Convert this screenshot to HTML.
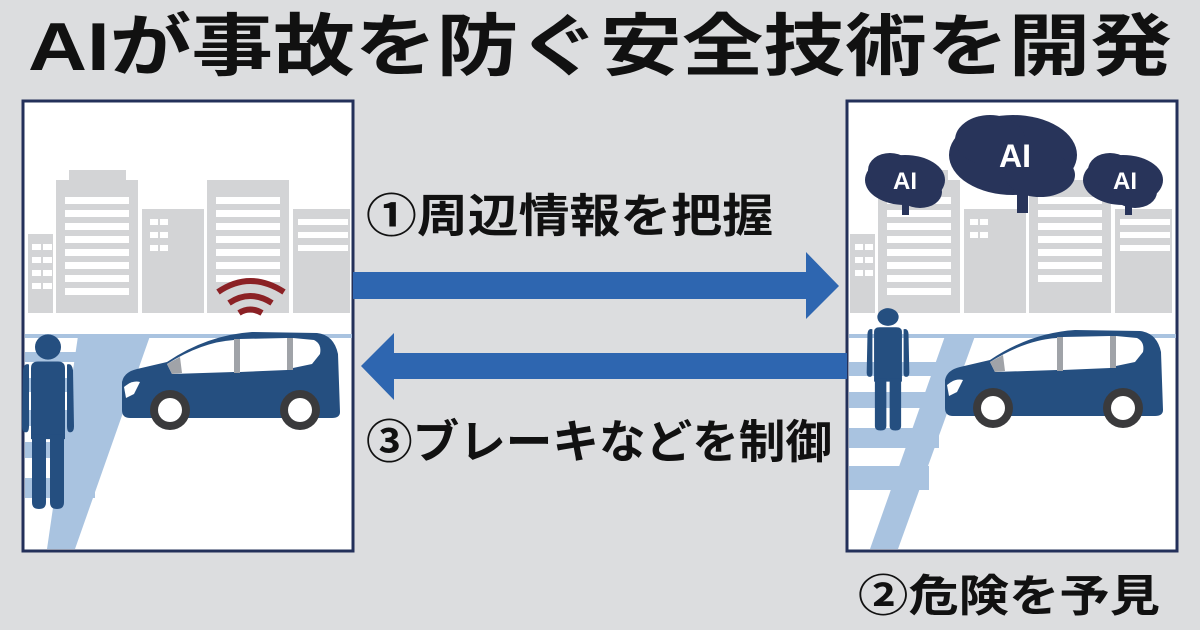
<!DOCTYPE html>
<html><head><meta charset="utf-8"><style>
html,body{margin:0;padding:0;background:#dcdddf;}
svg{display:block}
text{font-family:"Liberation Sans","Noto Sans CJK JP",sans-serif;font-weight:bold}
</style></head><body>
<svg width="1200" height="630" viewBox="0 0 1200 630" xmlns="http://www.w3.org/2000/svg">
<defs>
<g id="car">
 <path d="M0,50 Q2,40 15,37 L45,30 Q85,3 130,0 L195,1 Q212,3 216,22 L218,80 Q218,86 210,86 L8,86 Q0,86 0,78 Z" fill="#254f80"/>
 <path d="M45,32 Q80,10 112,8 L112,40 L50,42 Z" fill="#fff"/>
 <path d="M45,32 L58,25 L60,41 L50,42 Z" fill="#a0a3a8"/>
 <path d="M118,7 L165,6 L165,38 L118,40 Z" fill="#fff"/>
 <path d="M171,6 L192,8 Q200,12 198,22 L190,32 L171,36 Z" fill="#fff"/>
 <rect x="112" y="7" width="6" height="34" fill="#a0a3a8"/>
 <rect x="165" y="6" width="6" height="32" fill="#a0a3a8"/>
 <path d="M2,55 Q10,48 18,50 L12,62 L4,66 Z" fill="#fff"/>
 <circle cx="48" cy="78" r="20" fill="#3a3a3c"/><circle cx="48" cy="78" r="12" fill="#fff"/>
 <circle cx="178" cy="78" r="20" fill="#3a3a3c"/><circle cx="178" cy="78" r="12" fill="#fff"/>
</g>
<g id="bld" fill="#d3d4d6">
 <rect x="5" y="133" width="25" height="79"/>
 <rect x="33" y="79" width="82" height="133"/><rect x="46" y="69" width="57" height="12"/>
 <rect x="119" y="108" width="62" height="104"/>
 <rect x="184" y="79" width="82" height="133"/>
 <rect x="270" y="108" width="57" height="104"/>
</g>
<g id="bldwin" fill="#fff">
 <rect x="42" y="96" width="64" height="7"/><rect x="42" y="109" width="64" height="7"/><rect x="42" y="122" width="64" height="7"/><rect x="42" y="135" width="64" height="7"/><rect x="42" y="148" width="64" height="7"/><rect x="42" y="161" width="64" height="7"/><rect x="42" y="174" width="64" height="7"/><rect x="42" y="187" width="64" height="7"/>
 <rect x="193" y="96" width="64" height="7"/><rect x="193" y="109" width="64" height="7"/><rect x="193" y="122" width="64" height="7"/><rect x="193" y="135" width="64" height="7"/><rect x="193" y="148" width="64" height="7"/><rect x="193" y="161" width="64" height="7"/><rect x="193" y="174" width="64" height="7"/>
</g>
<g id="person" fill="#254f80">
 <circle cx="0" cy="0" r="13"/>
 <path d="M-17,22 Q-17,15 -10,15 L10,15 Q17,15 17,22 L17,95 L-17,95 Z"/>
 <path d="M-25,24 Q-24,16 -19,18 L-19,82 Q-19,88 -22,88 Q-26,88 -26,82 Z"/>
 <path d="M25,24 Q24,16 19,18 L19,82 Q19,88 22,88 Q26,88 26,82 Z"/>
 <path d="M-16,90 L-2,90 L-2,160 Q-2,167 -9,167 Q-16,167 -16,160 Z"/>
 <path d="M16,90 L2,90 L2,160 Q2,167 9,167 Q16,167 16,160 Z"/>
</g>
</defs>

<text x="28" y="70" font-size="68" fill="#111" textLength="1144" lengthAdjust="spacingAndGlyphs">AIが事故を防ぐ安全技術を開発</text>

<!-- left panel -->
<g>
<rect x="23" y="101" width="330" height="450" fill="#fff" stroke="#23305a" stroke-width="3"/>
<g transform="translate(23,101)"><use href="#bld"/><use href="#bldwin"/></g>
<g fill="#fff">
 <rect x="32" y="244" width="9" height="6"/><rect x="43" y="244" width="9" height="6"/><rect x="32" y="257" width="9" height="6"/><rect x="43" y="257" width="9" height="6"/><rect x="32" y="270" width="9" height="6"/><rect x="43" y="270" width="9" height="6"/><rect x="32" y="283" width="9" height="6"/><rect x="43" y="283" width="9" height="6"/>
 <rect x="150" y="219" width="8" height="6"/><rect x="160" y="219" width="8" height="6"/><rect x="150" y="232" width="8" height="6"/><rect x="160" y="232" width="8" height="6"/><rect x="150" y="245" width="8" height="6"/><rect x="160" y="245" width="8" height="6"/>
 <rect x="298" y="219" width="50" height="6"/><rect x="298" y="232" width="50" height="6"/><rect x="298" y="245" width="50" height="6"/>
</g>
<rect x="25" y="334" width="327" height="4" fill="#a9c3e0"/>
<path d="M78,336 L150,336 L75,549 L47,549 Z" fill="#a9c3e0"/>
<g fill="#a9c3e0"><rect x="25" y="352" width="110" height="10"/><rect x="25" y="378" width="100" height="14"/><rect x="25" y="410" width="90" height="16"/><rect x="25" y="442" width="80" height="16"/><rect x="25" y="478" width="70" height="20"/></g>
<g fill="none" stroke="#8b2125" stroke-width="6" stroke-linecap="butt">
 <path d="M218,292 Q250,270 284,292"/><path d="M229,303 Q250,289 272,303"/><path d="M239,313 Q250,306 262,313"/>
</g>
<use href="#car" x="122" y="332"/>
<use href="#person" transform="translate(48,347) scale(1,0.97)"/>
</g>

<!-- right panel -->
<g>
<rect x="847" y="101" width="330" height="450" fill="#fff" stroke="#23305a" stroke-width="3"/>
<g transform="translate(845,101)"><use href="#bld"/><use href="#bldwin"/></g>
<g fill="#fff">
 <rect x="855" y="244" width="8" height="6"/><rect x="865" y="244" width="8" height="6"/><rect x="855" y="257" width="8" height="6"/><rect x="865" y="257" width="8" height="6"/><rect x="855" y="270" width="8" height="6"/><rect x="865" y="270" width="8" height="6"/>
 <rect x="970" y="219" width="8" height="6"/><rect x="980" y="219" width="8" height="6"/><rect x="970" y="232" width="8" height="6"/><rect x="980" y="232" width="8" height="6"/>
 <rect x="1120" y="219" width="50" height="6"/><rect x="1120" y="232" width="50" height="6"/><rect x="1120" y="245" width="50" height="6"/>
</g>
<rect x="849" y="334" width="327" height="4" fill="#a9c3e0"/>
<path d="M945,336 L975,336 L898,549 L870,549 Z" fill="#a9c3e0"/>
<g fill="#a9c3e0"><rect x="849" y="362" width="110" height="14"/><rect x="849" y="392" width="100" height="16"/><rect x="849" y="428" width="90" height="20"/><rect x="849" y="466" width="80" height="24"/></g>
<use href="#car" x="945" y="330"/>
<use href="#person" transform="translate(888,317) scale(0.82,0.68)"/>
<!-- brains -->
<g fill="#28345a">
 <ellipse cx="905" cy="180" rx="40" ry="25"/><ellipse cx="890" cy="170" rx="22" ry="17"/><ellipse cx="920" cy="192" rx="22" ry="16"/><rect x="902" y="195" width="7" height="20"/>
 <ellipse cx="1013" cy="155" rx="64" ry="40"/><ellipse cx="990" cy="140" rx="35" ry="25"/><ellipse cx="1040" cy="175" rx="35" ry="22"/><rect x="1017" y="180" width="11" height="33"/>
 <ellipse cx="1123" cy="180" rx="40" ry="25"/><ellipse cx="1110" cy="170" rx="22" ry="17"/><ellipse cx="1135" cy="192" rx="22" ry="16"/><rect x="1125" y="195" width="7" height="20"/>
</g>
<text x="905" y="189" font-size="24" fill="#fff" text-anchor="middle">AI</text>
<text x="1015" y="167" font-size="32" fill="#fff" text-anchor="middle">AI</text>
<text x="1125" y="189" font-size="24" fill="#fff" text-anchor="middle">AI</text>
</g>

<!-- arrows -->
<path d="M353,272 L806,272 L806,252 L839,286 L806,319 L806,299 L353,299 Z" fill="#2e66b0"/>
<path d="M847,353 L394,353 L394,333 L361,366 L394,400 L394,379 L847,379 Z" fill="#2e66b0"/>

<text x="366" y="232" font-size="46" fill="#111" textLength="407" lengthAdjust="spacingAndGlyphs">①周辺情報を把握</text>
<text x="366" y="458" font-size="46" fill="#111" textLength="466" lengthAdjust="spacingAndGlyphs">③ブレーキなどを制御</text>
<text x="858" y="611" font-size="44" fill="#111" textLength="302" lengthAdjust="spacingAndGlyphs">②危険を予見</text>
</svg>
</body></html>
